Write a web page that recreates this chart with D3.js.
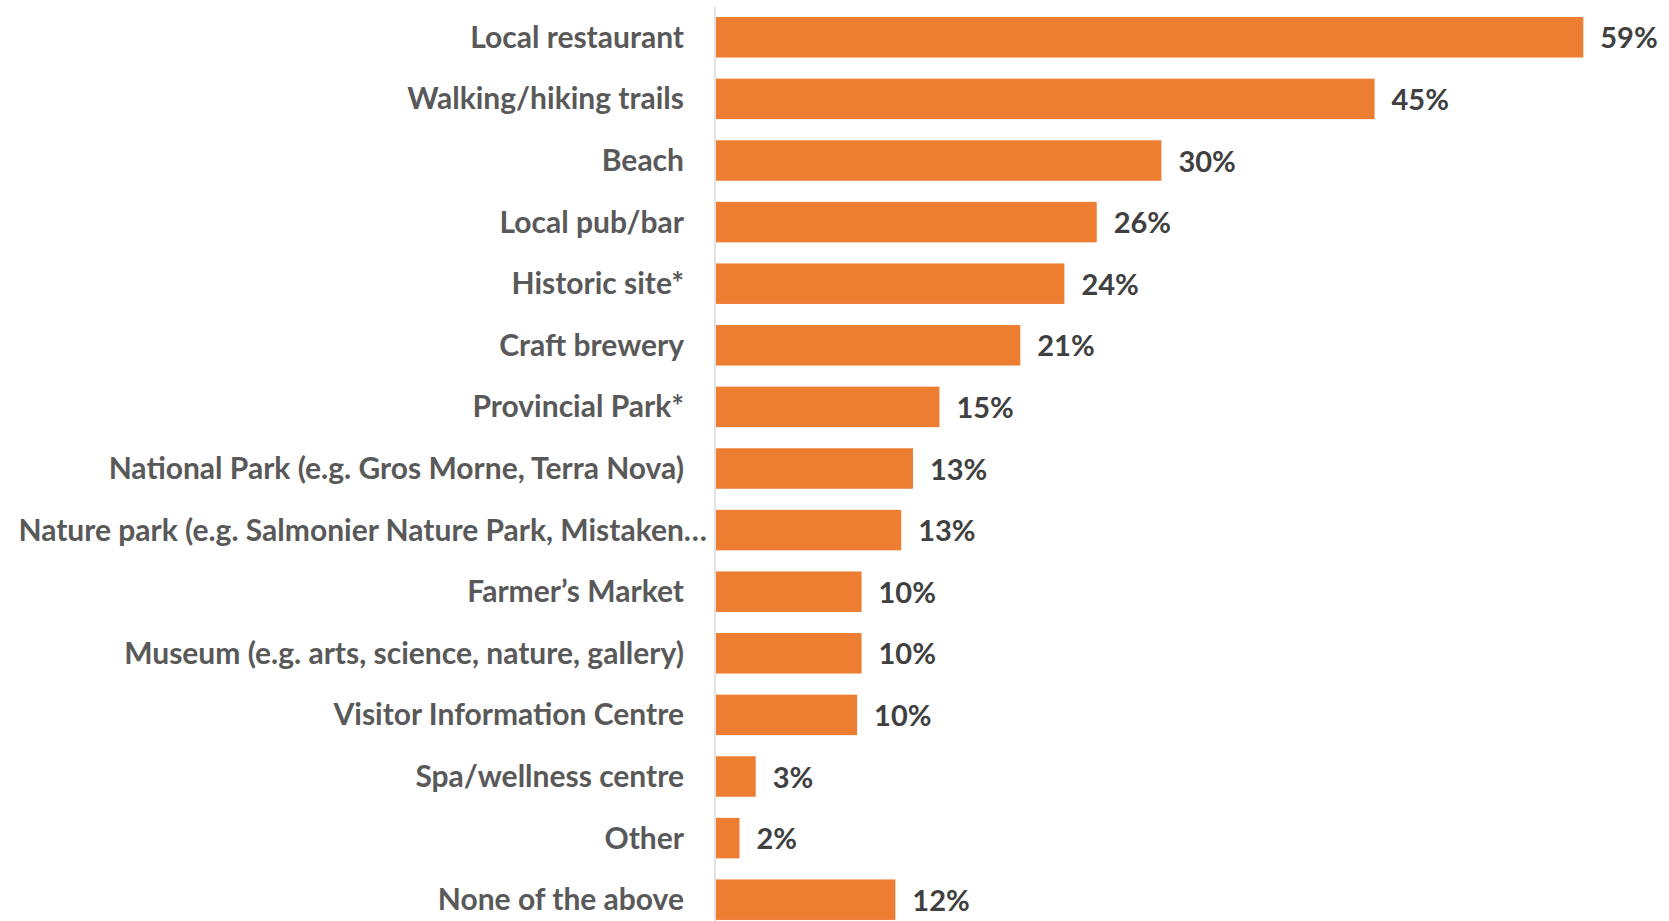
<!DOCTYPE html>
<html>
<head>
<meta charset="utf-8">
<script src="https://cdn.jsdelivr.net/npm/d3@7"></script>
<style>
  html, body { margin: 0; padding: 0; background: #ffffff; }
  svg { display: block; }
</style>
</head>
<body>
<svg id="chart" width="1669" height="921"></svg>
<script>
const categories = [
  "Local restaurant",
  "Walking/hiking trails",
  "Beach",
  "Local pub/bar",
  "Historic site*",
  "Craft brewery",
  "Provincial Park*",
  "National Park (e.g. Gros Morne, Terra Nova)",
  "Nature park (e.g. Salmonier Nature Park, Mistaken\u2026",
  "Farmer\u2019s Market",
  "Museum (e.g. arts, science, nature, gallery)",
  "Visitor Information Centre",
  "Spa/wellness centre",
  "Other",
  "None of the above"
];
const values = [59.0, 44.8, 30.3, 25.9, 23.7, 20.7, 15.2, 13.4, 12.6, 9.9, 9.9, 9.6, 2.7, 1.6, 12.2];
const valueLabels = ["59%", "45%", "30%", "26%", "24%", "21%", "15%", "13%", "13%", "10%", "10%", "10%", "3%", "2%", "12%"];

const W = 1669, H = 921;
const axisX = 716;
const svg = d3.select("#chart");

const x = d3.scaleLinear().domain([0, 60]).range([axisX, axisX + 882]);
const y = d3.scaleBand().domain(categories).range([6.5, 930.5]).paddingInner(0.343).paddingOuter(0.1715);

const font = "Lato, 'Open Sans', sans-serif";

svg.append("g").selectAll("rect")
  .data(categories)
  .join("rect")
  .attr("x", x(0))
  .attr("y", d => y(d))
  .attr("width", (d, i) => x(values[i]) - x(0))
  .attr("height", y.bandwidth())
  .attr("fill", "#ED7D31");

// axis line
svg.append("line")
  .attr("x1", axisX - 1).attr("x2", axisX - 1)
  .attr("y1", 7).attr("y2", H)
  .attr("stroke", "#d9d9d9").attr("stroke-width", 1.5);

// category labels
svg.append("g").selectAll("text")
  .data(categories)
  .join("text")
  .attr("x", (d, i) => i === 8 ? axisX - 9 : 684)
  .attr("y", d => y(d) + y.bandwidth() / 2)
  .attr("dy", "0.35em")
  .attr("text-anchor", "end")
  .attr("font-family", font)
  .attr("font-weight", "bold")
  .attr("font-size", 30)
  .attr("fill", "#595959")
  .text(d => d);

// value labels
svg.append("g").selectAll("text")
  .data(categories)
  .join("text")
  .attr("x", (d, i) => x(values[i]) + 17)
  .attr("y", d => y(d) + y.bandwidth() / 2 + 1)
  .attr("dy", "0.35em")
  .attr("text-anchor", "start")
  .attr("font-family", font)
  .attr("font-weight", "bold")
  .attr("font-size", 29)
  .attr("fill", "#404040")
  .text((d, i) => valueLabels[i]);
</script>
</body>
</html>
